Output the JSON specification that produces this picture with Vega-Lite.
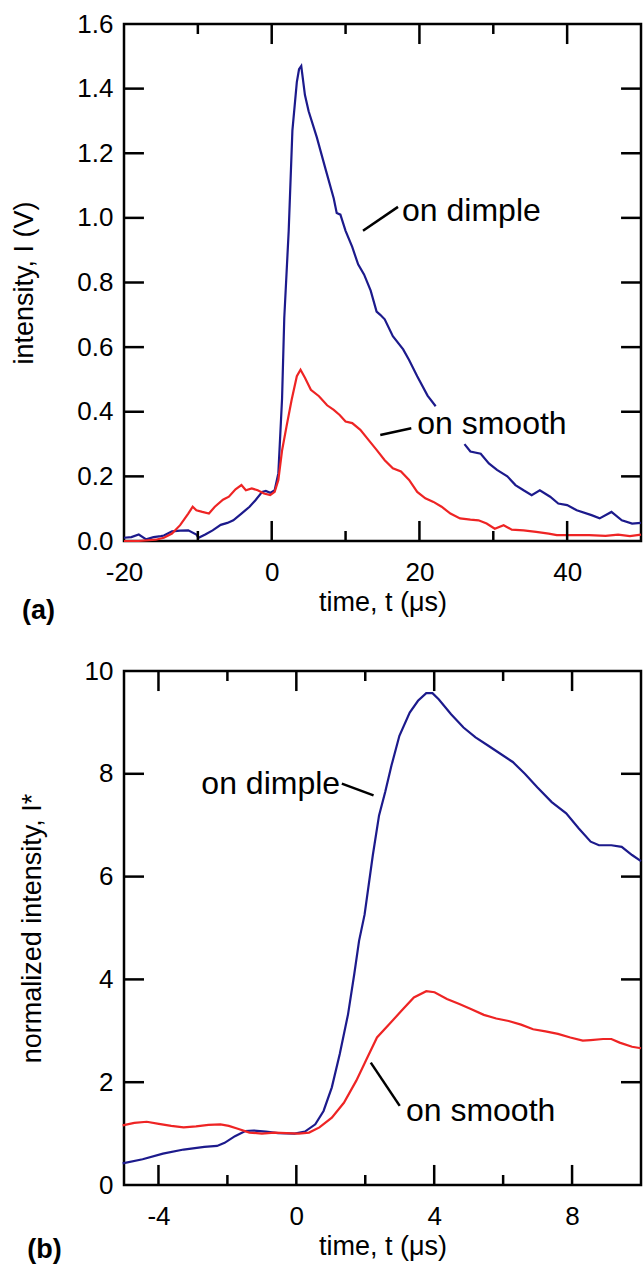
{
  "$schema": "https://vega.github.io/schema/vega-lite/v6.json",
  "background": "white",
  "padding": {"left": 9, "top": 9, "right": 2, "bottom": 2},
  "spacing": 30,
  "config": {
    "font": "Liberation Sans",
    "view": {"stroke": "black", "strokeWidth": 2.5},
    "axis": {
      "grid": false, "domain": false, "tickColor": "transparent",
      "labelFont": "Liberation Sans", "labelFontSize": 26, "labelColor": "black",
      "titleFont": "Liberation Sans", "titleFontSize": 27, "titleFontWeight": "normal", "titleColor": "black",
      "labelOverlap": false, "labelFlush": false
    }
  },
  "datasets": {
    "a": [
      {"t": -20, "I": 0.01, "s": "on dimple"}, {"t": -19, "I": 0.012, "s": "on dimple"}, {"t": -18, "I": 0.02, "s": "on dimple"}, {"t": -17, "I": 0.005, "s": "on dimple"}, {"t": -16, "I": 0.012, "s": "on dimple"}, {"t": -15, "I": 0.015, "s": "on dimple"}, {"t": -14.6, "I": 0.017, "s": "on dimple"}, {"t": -13.5, "I": 0.03, "s": "on dimple"}, {"t": -12.4, "I": 0.032, "s": "on dimple"}, {"t": -11.3, "I": 0.033, "s": "on dimple"}, {"t": -10.2, "I": 0.02, "s": "on dimple"}, {"t": -9.9, "I": 0.01, "s": "on dimple"}, {"t": -9, "I": 0.02, "s": "on dimple"}, {"t": -8, "I": 0.033, "s": "on dimple"}, {"t": -6.9, "I": 0.05, "s": "on dimple"}, {"t": -6, "I": 0.056, "s": "on dimple"}, {"t": -5.2, "I": 0.064, "s": "on dimple"}, {"t": -4.1, "I": 0.085, "s": "on dimple"}, {"t": -3, "I": 0.106, "s": "on dimple"}, {"t": -2.2, "I": 0.126, "s": "on dimple"}, {"t": -1.3, "I": 0.152, "s": "on dimple"}, {"t": -0.8, "I": 0.155, "s": "on dimple"}, {"t": -0.2, "I": 0.149, "s": "on dimple"}, {"t": 0.4, "I": 0.157, "s": "on dimple"}, {"t": 0.9, "I": 0.21, "s": "on dimple"}, {"t": 1.4, "I": 0.44, "s": "on dimple"}, {"t": 1.7, "I": 0.69, "s": "on dimple"}, {"t": 2.3, "I": 0.96, "s": "on dimple"}, {"t": 2.8, "I": 1.27, "s": "on dimple"}, {"t": 3.4, "I": 1.42, "s": "on dimple"}, {"t": 3.7, "I": 1.46, "s": "on dimple"}, {"t": 4.0, "I": 1.47, "s": "on dimple"}, {"t": 4.5, "I": 1.38, "s": "on dimple"}, {"t": 5.0, "I": 1.33, "s": "on dimple"}, {"t": 6.1, "I": 1.25, "s": "on dimple"}, {"t": 7.3, "I": 1.15, "s": "on dimple"}, {"t": 8.4, "I": 1.06, "s": "on dimple"}, {"t": 8.8, "I": 1.015, "s": "on dimple"}, {"t": 9.3, "I": 1.01, "s": "on dimple"}, {"t": 10, "I": 0.96, "s": "on dimple"}, {"t": 10.9, "I": 0.91, "s": "on dimple"}, {"t": 11.7, "I": 0.856, "s": "on dimple"}, {"t": 12.5, "I": 0.825, "s": "on dimple"}, {"t": 13.4, "I": 0.775, "s": "on dimple"}, {"t": 14.2, "I": 0.71, "s": "on dimple"}, {"t": 14.7, "I": 0.7, "s": "on dimple"}, {"t": 15.3, "I": 0.686, "s": "on dimple"}, {"t": 16.4, "I": 0.634, "s": "on dimple"}, {"t": 17.8, "I": 0.593, "s": "on dimple"}, {"t": 18.6, "I": 0.56, "s": "on dimple"}, {"t": 19.7, "I": 0.51, "s": "on dimple"}, {"t": 21.1, "I": 0.45, "s": "on dimple"}, {"t": 22.2, "I": 0.417, "s": "on dimple"}, {"t": 24, "I": null, "s": "on dimple"}, {"t": 26.1, "I": 0.3, "s": "on dimple"}, {"t": 26.9, "I": 0.277, "s": "on dimple"}, {"t": 28.3, "I": 0.27, "s": "on dimple"}, {"t": 29.4, "I": 0.24, "s": "on dimple"}, {"t": 30.5, "I": 0.22, "s": "on dimple"}, {"t": 31.9, "I": 0.2, "s": "on dimple"}, {"t": 33, "I": 0.173, "s": "on dimple"}, {"t": 34.1, "I": 0.157, "s": "on dimple"}, {"t": 35.2, "I": 0.142, "s": "on dimple"}, {"t": 36.3, "I": 0.157, "s": "on dimple"}, {"t": 37.7, "I": 0.137, "s": "on dimple"}, {"t": 38.8, "I": 0.116, "s": "on dimple"}, {"t": 40, "I": 0.111, "s": "on dimple"}, {"t": 41.3, "I": 0.095, "s": "on dimple"}, {"t": 43.3, "I": 0.08, "s": "on dimple"}, {"t": 44.4, "I": 0.07, "s": "on dimple"}, {"t": 46, "I": 0.09, "s": "on dimple"}, {"t": 47.4, "I": 0.064, "s": "on dimple"}, {"t": 48.8, "I": 0.054, "s": "on dimple"}, {"t": 50, "I": 0.056, "s": "on dimple"},
      {"t": -20, "I": 0.0, "s": "on smooth"}, {"t": -18, "I": 0.0, "s": "on smooth"}, {"t": -15.7, "I": 0.004, "s": "on smooth"}, {"t": -14.6, "I": 0.01, "s": "on smooth"}, {"t": -13.5, "I": 0.023, "s": "on smooth"}, {"t": -12.4, "I": 0.049, "s": "on smooth"}, {"t": -11.3, "I": 0.085, "s": "on smooth"}, {"t": -10.7, "I": 0.106, "s": "on smooth"}, {"t": -10.2, "I": 0.095, "s": "on smooth"}, {"t": -9.4, "I": 0.09, "s": "on smooth"}, {"t": -8.5, "I": 0.085, "s": "on smooth"}, {"t": -7.7, "I": 0.106, "s": "on smooth"}, {"t": -6.6, "I": 0.128, "s": "on smooth"}, {"t": -5.8, "I": 0.137, "s": "on smooth"}, {"t": -4.9, "I": 0.16, "s": "on smooth"}, {"t": -4.1, "I": 0.173, "s": "on smooth"}, {"t": -3.5, "I": 0.157, "s": "on smooth"}, {"t": -2.7, "I": 0.163, "s": "on smooth"}, {"t": -1.9, "I": 0.157, "s": "on smooth"}, {"t": -1.05, "I": 0.147, "s": "on smooth"}, {"t": -0.2, "I": 0.142, "s": "on smooth"}, {"t": 0.4, "I": 0.152, "s": "on smooth"}, {"t": 0.9, "I": 0.189, "s": "on smooth"}, {"t": 1.4, "I": 0.28, "s": "on smooth"}, {"t": 2.0, "I": 0.354, "s": "on smooth"}, {"t": 2.7, "I": 0.437, "s": "on smooth"}, {"t": 3.4, "I": 0.51, "s": "on smooth"}, {"t": 3.9, "I": 0.53, "s": "on smooth"}, {"t": 4.5, "I": 0.505, "s": "on smooth"}, {"t": 5.3, "I": 0.468, "s": "on smooth"}, {"t": 6.4, "I": 0.448, "s": "on smooth"}, {"t": 7.5, "I": 0.42, "s": "on smooth"}, {"t": 8.4, "I": 0.406, "s": "on smooth"}, {"t": 9.2, "I": 0.39, "s": "on smooth"}, {"t": 10, "I": 0.37, "s": "on smooth"}, {"t": 10.9, "I": 0.365, "s": "on smooth"}, {"t": 12, "I": 0.344, "s": "on smooth"}, {"t": 13.1, "I": 0.313, "s": "on smooth"}, {"t": 14.2, "I": 0.282, "s": "on smooth"}, {"t": 15.3, "I": 0.25, "s": "on smooth"}, {"t": 16.4, "I": 0.225, "s": "on smooth"}, {"t": 17.5, "I": 0.215, "s": "on smooth"}, {"t": 18.6, "I": 0.189, "s": "on smooth"}, {"t": 19.7, "I": 0.152, "s": "on smooth"}, {"t": 20.8, "I": 0.132, "s": "on smooth"}, {"t": 21.9, "I": 0.121, "s": "on smooth"}, {"t": 23, "I": 0.106, "s": "on smooth"}, {"t": 24.2, "I": 0.085, "s": "on smooth"}, {"t": 25.5, "I": 0.07, "s": "on smooth"}, {"t": 26.9, "I": 0.066, "s": "on smooth"}, {"t": 28, "I": 0.064, "s": "on smooth"}, {"t": 29.1, "I": 0.054, "s": "on smooth"}, {"t": 30.2, "I": 0.038, "s": "on smooth"}, {"t": 31.4, "I": 0.049, "s": "on smooth"}, {"t": 32.5, "I": 0.035, "s": "on smooth"}, {"t": 34.1, "I": 0.033, "s": "on smooth"}, {"t": 35.8, "I": 0.028, "s": "on smooth"}, {"t": 37.5, "I": 0.023, "s": "on smooth"}, {"t": 38.6, "I": 0.018, "s": "on smooth"}, {"t": 40.8, "I": 0.018, "s": "on smooth"}, {"t": 43, "I": 0.018, "s": "on smooth"}, {"t": 45.2, "I": 0.016, "s": "on smooth"}, {"t": 46.9, "I": 0.02, "s": "on smooth"}, {"t": 48.5, "I": 0.015, "s": "on smooth"}, {"t": 50, "I": 0.02, "s": "on smooth"}
    ],
    "b": [
      {"t": -5.04, "I": 0.42, "s": "on dimple"}, {"t": -4.46, "I": 0.5, "s": "on dimple"}, {"t": -3.87, "I": 0.61, "s": "on dimple"}, {"t": -3.27, "I": 0.69, "s": "on dimple"}, {"t": -2.67, "I": 0.74, "s": "on dimple"}, {"t": -2.3, "I": 0.76, "s": "on dimple"}, {"t": -2.08, "I": 0.82, "s": "on dimple"}, {"t": -1.78, "I": 0.95, "s": "on dimple"}, {"t": -1.48, "I": 1.05, "s": "on dimple"}, {"t": -1.24, "I": 1.06, "s": "on dimple"}, {"t": -0.88, "I": 1.04, "s": "on dimple"}, {"t": -0.53, "I": 1.01, "s": "on dimple"}, {"t": -0.05, "I": 1.0, "s": "on dimple"}, {"t": 0.25, "I": 1.04, "s": "on dimple"}, {"t": 0.55, "I": 1.18, "s": "on dimple"}, {"t": 0.79, "I": 1.44, "s": "on dimple"}, {"t": 1.03, "I": 1.9, "s": "on dimple"}, {"t": 1.26, "I": 2.55, "s": "on dimple"}, {"t": 1.5, "I": 3.32, "s": "on dimple"}, {"t": 1.68, "I": 4.1, "s": "on dimple"}, {"t": 1.82, "I": 4.75, "s": "on dimple"}, {"t": 1.98, "I": 5.26, "s": "on dimple"}, {"t": 2.22, "I": 6.42, "s": "on dimple"}, {"t": 2.4, "I": 7.19, "s": "on dimple"}, {"t": 2.58, "I": 7.65, "s": "on dimple"}, {"t": 2.76, "I": 8.16, "s": "on dimple"}, {"t": 2.99, "I": 8.74, "s": "on dimple"}, {"t": 3.29, "I": 9.19, "s": "on dimple"}, {"t": 3.53, "I": 9.42, "s": "on dimple"}, {"t": 3.77, "I": 9.57, "s": "on dimple"}, {"t": 3.95, "I": 9.57, "s": "on dimple"}, {"t": 4.13, "I": 9.45, "s": "on dimple"}, {"t": 4.49, "I": 9.16, "s": "on dimple"}, {"t": 4.85, "I": 8.9, "s": "on dimple"}, {"t": 5.2, "I": 8.71, "s": "on dimple"}, {"t": 5.56, "I": 8.55, "s": "on dimple"}, {"t": 5.92, "I": 8.39, "s": "on dimple"}, {"t": 6.28, "I": 8.23, "s": "on dimple"}, {"t": 6.63, "I": 8.0, "s": "on dimple"}, {"t": 6.99, "I": 7.74, "s": "on dimple"}, {"t": 7.41, "I": 7.45, "s": "on dimple"}, {"t": 7.83, "I": 7.23, "s": "on dimple"}, {"t": 8.19, "I": 6.94, "s": "on dimple"}, {"t": 8.54, "I": 6.68, "s": "on dimple"}, {"t": 8.78, "I": 6.61, "s": "on dimple"}, {"t": 9.14, "I": 6.61, "s": "on dimple"}, {"t": 9.44, "I": 6.58, "s": "on dimple"}, {"t": 9.74, "I": 6.42, "s": "on dimple"}, {"t": 10.0, "I": 6.3, "s": "on dimple"},
      {"t": -5.04, "I": 1.16, "s": "on smooth"}, {"t": -4.7, "I": 1.21, "s": "on smooth"}, {"t": -4.34, "I": 1.23, "s": "on smooth"}, {"t": -3.99, "I": 1.19, "s": "on smooth"}, {"t": -3.63, "I": 1.15, "s": "on smooth"}, {"t": -3.27, "I": 1.12, "s": "on smooth"}, {"t": -2.91, "I": 1.14, "s": "on smooth"}, {"t": -2.55, "I": 1.17, "s": "on smooth"}, {"t": -2.2, "I": 1.18, "s": "on smooth"}, {"t": -1.96, "I": 1.15, "s": "on smooth"}, {"t": -1.72, "I": 1.1, "s": "on smooth"}, {"t": -1.36, "I": 1.02, "s": "on smooth"}, {"t": -1.0, "I": 1.0, "s": "on smooth"}, {"t": -0.64, "I": 1.02, "s": "on smooth"}, {"t": -0.29, "I": 1.01, "s": "on smooth"}, {"t": 0.07, "I": 1.0, "s": "on smooth"}, {"t": 0.37, "I": 1.02, "s": "on smooth"}, {"t": 0.67, "I": 1.12, "s": "on smooth"}, {"t": 1.03, "I": 1.31, "s": "on smooth"}, {"t": 1.38, "I": 1.6, "s": "on smooth"}, {"t": 1.74, "I": 2.03, "s": "on smooth"}, {"t": 2.04, "I": 2.45, "s": "on smooth"}, {"t": 2.34, "I": 2.87, "s": "on smooth"}, {"t": 2.7, "I": 3.13, "s": "on smooth"}, {"t": 3.05, "I": 3.39, "s": "on smooth"}, {"t": 3.41, "I": 3.65, "s": "on smooth"}, {"t": 3.77, "I": 3.77, "s": "on smooth"}, {"t": 4.01, "I": 3.75, "s": "on smooth"}, {"t": 4.37, "I": 3.62, "s": "on smooth"}, {"t": 4.73, "I": 3.52, "s": "on smooth"}, {"t": 5.08, "I": 3.42, "s": "on smooth"}, {"t": 5.44, "I": 3.31, "s": "on smooth"}, {"t": 5.8, "I": 3.24, "s": "on smooth"}, {"t": 6.16, "I": 3.19, "s": "on smooth"}, {"t": 6.52, "I": 3.12, "s": "on smooth"}, {"t": 6.87, "I": 3.03, "s": "on smooth"}, {"t": 7.23, "I": 2.99, "s": "on smooth"}, {"t": 7.59, "I": 2.94, "s": "on smooth"}, {"t": 7.95, "I": 2.87, "s": "on smooth"}, {"t": 8.31, "I": 2.81, "s": "on smooth"}, {"t": 8.54, "I": 2.82, "s": "on smooth"}, {"t": 8.9, "I": 2.84, "s": "on smooth"}, {"t": 9.14, "I": 2.84, "s": "on smooth"}, {"t": 9.38, "I": 2.77, "s": "on smooth"}, {"t": 9.74, "I": 2.69, "s": "on smooth"}, {"t": 10.0, "I": 2.66, "s": "on smooth"}
    ],
    "ann_a": [
      {"tx": 17.65, "ty": 0.99, "label": "on dimple"},
      {"tx": 19.7, "ty": 0.331, "label": "on smooth"}
    ],
    "lead_a": [
      {"x1": 12.36, "y1": 0.96, "x2": 17.1, "y2": 1.034},
      {"x1": 14.7, "y1": 0.328, "x2": 18.9, "y2": 0.349},
      {"x1": -20, "y1": 0.2, "x2": -17.3, "y2": 0.2}, {"x1": -20, "y1": 0.4, "x2": -17.3, "y2": 0.4}, {"x1": -20, "y1": 0.6, "x2": -17.3, "y2": 0.6}, {"x1": -20, "y1": 0.8, "x2": -17.3, "y2": 0.8}, {"x1": -20, "y1": 1.0, "x2": -17.3, "y2": 1.0}, {"x1": -20, "y1": 1.2, "x2": -17.3, "y2": 1.2}, {"x1": -20, "y1": 1.4, "x2": -17.3, "y2": 1.4},
      {"x1": 50, "y1": 0.2, "x2": 47.3, "y2": 0.2}, {"x1": 50, "y1": 0.4, "x2": 47.3, "y2": 0.4}, {"x1": 50, "y1": 0.6, "x2": 47.3, "y2": 0.6}, {"x1": 50, "y1": 0.8, "x2": 47.3, "y2": 0.8}, {"x1": 50, "y1": 1.0, "x2": 47.3, "y2": 1.0}, {"x1": 50, "y1": 1.2, "x2": 47.3, "y2": 1.2}, {"x1": 50, "y1": 1.4, "x2": 47.3, "y2": 1.4},
      {"x1": 0, "y1": 0, "x2": 0, "y2": 0.062}, {"x1": 20, "y1": 0, "x2": 20, "y2": 0.062}, {"x1": 40, "y1": 0, "x2": 40, "y2": 0.062},
      {"x1": 0, "y1": 1.6, "x2": 0, "y2": 1.538}, {"x1": 20, "y1": 1.6, "x2": 20, "y2": 1.538}, {"x1": 40, "y1": 1.6, "x2": 40, "y2": 1.538},
      {"x1": -10, "y1": 0, "x2": -10, "y2": 0.031}, {"x1": 10, "y1": 0, "x2": 10, "y2": 0.031}, {"x1": 30, "y1": 0, "x2": 30, "y2": 0.031},
      {"x1": -10, "y1": 1.6, "x2": -10, "y2": 1.569}, {"x1": 10, "y1": 1.6, "x2": 10, "y2": 1.569}, {"x1": 30, "y1": 1.6, "x2": 30, "y2": 1.569}
    ],
    "tag_a": [{"tx": -33.8, "ty": -0.241, "label": "(a)"}],
    "ann_b": [
      {"tx": 1.27, "ty": 7.61, "label": "on dimple"}
    ],
    "ann_b2": [
      {"tx": 3.18, "ty": 1.25, "label": "on smooth"}
    ],
    "lead_b": [
      {"x1": 1.32, "y1": 7.81, "x2": 2.24, "y2": 7.58},
      {"x1": 2.16, "y1": 2.38, "x2": 3.0, "y2": 1.54},
      {"x1": -5, "y1": 2, "x2": -4.42, "y2": 2}, {"x1": -5, "y1": 4, "x2": -4.42, "y2": 4}, {"x1": -5, "y1": 6, "x2": -4.42, "y2": 6}, {"x1": -5, "y1": 8, "x2": -4.42, "y2": 8},
      {"x1": 10, "y1": 2, "x2": 9.42, "y2": 2}, {"x1": 10, "y1": 4, "x2": 9.42, "y2": 4}, {"x1": 10, "y1": 6, "x2": 9.42, "y2": 6}, {"x1": 10, "y1": 8, "x2": 9.42, "y2": 8},
      {"x1": -4, "y1": 0, "x2": -4, "y2": 0.39}, {"x1": 0, "y1": 0, "x2": 0, "y2": 0.39}, {"x1": 4, "y1": 0, "x2": 4, "y2": 0.39}, {"x1": 8, "y1": 0, "x2": 8, "y2": 0.39},
      {"x1": -4, "y1": 10, "x2": -4, "y2": 9.61}, {"x1": 0, "y1": 10, "x2": 0, "y2": 9.61}, {"x1": 4, "y1": 10, "x2": 4, "y2": 9.61}, {"x1": 8, "y1": 10, "x2": 8, "y2": 9.61},
      {"x1": -2, "y1": 0, "x2": -2, "y2": 0.195}, {"x1": 2, "y1": 0, "x2": 2, "y2": 0.195}, {"x1": 6, "y1": 0, "x2": 6, "y2": 0.195},
      {"x1": -2, "y1": 10, "x2": -2, "y2": 9.805}, {"x1": 2, "y1": 10, "x2": 2, "y2": 9.805}, {"x1": 6, "y1": 10, "x2": 6, "y2": 9.805}
    ],
    "tag_b": [{"tx": -7.81, "ty": -1.42, "label": "(b)"}]
  },
  "vconcat": [
    {
      "width": 517,
      "height": 517,
      "layer": [
        {
          "data": {"name": "a"},
          "mark": {"type": "line", "strokeWidth": 2.2, "invalid": "break-paths-show-domains"},
          "encoding": {
            "x": {"field": "t", "type": "quantitative", "scale": {"domain": [-20, 50], "nice": false, "zero": false},
              "axis": {"orient": "bottom", "values": [-20, 0, 20, 40], "title": "time, t (μs)",
                "labelExpr": "replace(datum.label, '−', '-')", "tickSize": -20,
                "labelPadding": 38, "titlePadding": 4}},
            "y": {"field": "I", "type": "quantitative", "scale": {"domain": [0, 1.6], "nice": false},
              "axis": {"orient": "left", "values": [0, 0.2, 0.4, 0.6, 0.8, 1.0, 1.2, 1.4, 1.6], "format": ".1f", "tickSize": -20,
                "title": "intensity, I (V)", "labelPadding": 31, "titlePadding": 38}},
            "color": {"field": "s", "type": "nominal", "scale": {"domain": ["on dimple", "on smooth"], "range": ["#1c1a8c", "#ee2424"]}, "legend": null}
          }
        },
        {
          "data": {"name": "ann_a"},
          "mark": {"type": "text", "align": "left", "baseline": "alphabetic", "fontSize": 32, "font": "Liberation Sans", "color": "black"},
          "encoding": {
            "x": {"field": "tx", "type": "quantitative", "scale": {"domain": [-20, 50], "nice": false, "zero": false},
              "axis": {"orient": "top", "values": [-10, 10, 30], "labels": false, "title": null, "tickSize": -10}},
            "y": {"field": "ty", "type": "quantitative", "scale": {"domain": [0, 1.6], "nice": false},
              "axis": {"orient": "right", "values": [0.4, 0.8], "labels": false, "title": null, "tickSize": -20}},
            "text": {"field": "label"}
          }
        },
        {
          "data": {"name": "lead_a"},
          "mark": {"type": "rule", "strokeWidth": 2.5, "color": "black"},
          "encoding": {
            "x": {"field": "x1", "type": "quantitative", "axis": null},
            "x2": {"field": "x2"},
            "y": {"field": "y1", "type": "quantitative", "axis": null},
            "y2": {"field": "y2"}
          }
        },
        {
          "data": {"name": "tag_a"},
          "mark": {"type": "text", "align": "left", "baseline": "alphabetic", "fontSize": 27, "fontWeight": "bold", "font": "Liberation Sans", "color": "black"},
          "encoding": {
            "x": {"field": "tx", "type": "quantitative", "axis": null},
            "y": {"field": "ty", "type": "quantitative", "axis": null},
            "text": {"field": "label"}
          }
        }
      ]
    },
    {
      "width": 517,
      "height": 514,
      "layer": [
        {
          "data": {"name": "b"},
          "mark": {"type": "line", "strokeWidth": 2.2},
          "encoding": {
            "x": {"field": "t", "type": "quantitative", "scale": {"domain": [-5, 10], "nice": false, "zero": false},
              "axis": {"orient": "bottom", "values": [-4, 0, 4, 8], "title": "time, t (μs)",
                "labelExpr": "replace(datum.label, '−', '-')", "tickSize": -20,
                "labelPadding": 38, "titlePadding": 4}},
            "y": {"field": "I", "type": "quantitative", "scale": {"domain": [0, 10], "nice": false},
              "axis": {"orient": "left", "values": [0, 2, 4, 6, 8, 10], "tickSize": -20,
                "title": "normalized intensity, I*", "labelPadding": 31, "titlePadding": 38}},
            "color": {"field": "s", "type": "nominal", "scale": {"domain": ["on dimple", "on smooth"], "range": ["#1c1a8c", "#ee2424"]}, "legend": null}
          }
        },
        {
          "data": {"name": "ann_b"},
          "mark": {"type": "text", "align": "right", "baseline": "alphabetic", "fontSize": 32, "font": "Liberation Sans", "color": "black"},
          "encoding": {
            "x": {"field": "tx", "type": "quantitative", "scale": {"domain": [-5, 10], "nice": false, "zero": false},
              "axis": {"orient": "top", "values": [-2, 2, 6], "labels": false, "title": null, "tickSize": -10}},
            "y": {"field": "ty", "type": "quantitative", "scale": {"domain": [0, 10], "nice": false},
              "axis": {"orient": "right", "values": [2, 4], "labels": false, "title": null, "tickSize": -20}},
            "text": {"field": "label"}
          }
        },
        {
          "data": {"name": "ann_b2"},
          "mark": {"type": "text", "align": "left", "baseline": "alphabetic", "fontSize": 32, "font": "Liberation Sans", "color": "black"},
          "encoding": {
            "x": {"field": "tx", "type": "quantitative", "axis": null},
            "y": {"field": "ty", "type": "quantitative", "axis": null},
            "text": {"field": "label"}
          }
        },
        {
          "data": {"name": "lead_b"},
          "mark": {"type": "rule", "strokeWidth": 2.5, "color": "black"},
          "encoding": {
            "x": {"field": "x1", "type": "quantitative", "axis": null},
            "x2": {"field": "x2"},
            "y": {"field": "y1", "type": "quantitative", "axis": null},
            "y2": {"field": "y2"}
          }
        },
        {
          "data": {"name": "tag_b"},
          "mark": {"type": "text", "align": "left", "baseline": "alphabetic", "fontSize": 27, "fontWeight": "bold", "font": "Liberation Sans", "color": "black"},
          "encoding": {
            "x": {"field": "tx", "type": "quantitative", "axis": null},
            "y": {"field": "ty", "type": "quantitative", "axis": null},
            "text": {"field": "label"}
          }
        }
      ]
    }
  ]
}
